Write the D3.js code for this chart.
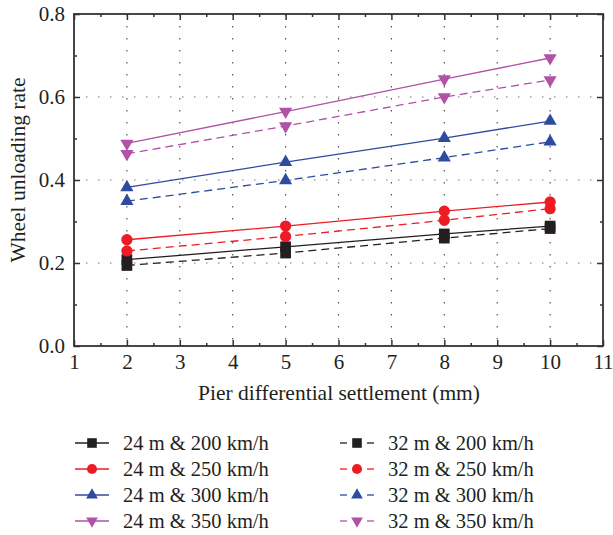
<!DOCTYPE html>
<html>
<head>
<meta charset="utf-8">
<script src="https://cdn.jsdelivr.net/npm/d3@7"></script>
<style>
  html, body { margin: 0; padding: 0; background: #fff; }
  svg text { font-family: "Liberation Serif", "Times New Roman", serif; fill: #231f20; }
</style>
</head>
<body>
<svg id="chart" width="613" height="535"></svg>
<script>
// Settlement values on the x axis (mm)
const settlement = [2, 5, 8, 10];

// Wheel unloading rate for each span / speed combination
const s24_200 = [0.208, 0.239, 0.270, 0.289];
const s24_250 = [0.256, 0.289, 0.325, 0.347];
const s24_300 = [0.382, 0.443, 0.501, 0.542];
const s24_350 = [0.488, 0.565, 0.643, 0.694];
const s32_200 = [0.194, 0.224, 0.260, 0.283];
const s32_250 = [0.229, 0.264, 0.303, 0.331];
const s32_300 = [0.349, 0.399, 0.454, 0.492];
const s32_350 = [0.463, 0.530, 0.600, 0.641];

const seriesNames = [
  "24 m & 200 km/h", "24 m & 250 km/h", "24 m & 300 km/h", "24 m & 350 km/h",
  "32 m & 200 km/h", "32 m & 250 km/h", "32 m & 300 km/h", "32 m & 350 km/h"
];
const seriesValues = [s24_200, s24_250, s24_300, s24_350, s32_200, s32_250, s32_300, s32_350];

const xTicks = [1, 2, 3, 4, 5, 6, 7, 8, 9, 10, 11];
const yTicks = [0.0, 0.2, 0.4, 0.6, 0.8];

const colors = ["#231f20", "#ed1c24", "#2e4ba0", "#b052a6"];
const shapes = ["square", "circle", "up", "down"];

const svg = d3.select("#chart");
const plotL = 74, plotR = 603, plotT = 14, plotB = 346;

const x = d3.scaleLinear().domain([1, 11]).range([plotL, plotR]);
const y = d3.scaleLinear().domain([0, 0.8]).range([plotB, plotT]);

const axisColor = "#333";

// Dotted grid
const grid = svg.append("g");
grid.selectAll("line.vg").data(d3.range(2, 11)).join("line")
  .attr("x1", d => x(d)).attr("x2", d => x(d))
  .attr("y1", plotT).attr("y2", plotB)
  .attr("stroke", "#555").attr("stroke-width", 1.2)
  .attr("stroke-dasharray", "1.5,10.5");
grid.selectAll("line.hg").data([0.2, 0.4, 0.6]).join("line")
  .attr("x1", plotL).attr("x2", plotR)
  .attr("y1", d => y(d)).attr("y2", d => y(d))
  .attr("stroke", "#777").attr("stroke-width", 1.2)
  .attr("stroke-dasharray", "1.5,10.5");

// Axes with inward ticks, mirrored on the opposite sides
const tickMajor = 6, tickMinor = 3;
const xMinor = d3.range(1.5, 11, 1);
const yMinor = d3.range(0.1, 0.8, 0.2);

const bottomAxis = d3.axisBottom(x).tickValues(xTicks).tickFormat(d3.format("d"))
  .tickSizeInner(-tickMajor).tickSizeOuter(0).tickPadding(8);
const gx = svg.append("g").attr("transform", `translate(0,${plotB})`).call(bottomAxis);
gx.selectAll("text").attr("font-size", 21);
const topAxis = d3.axisTop(x).tickValues(xTicks).tickFormat("").tickSizeInner(-tickMajor).tickSizeOuter(0);
svg.append("g").attr("transform", `translate(0,${plotT})`).call(topAxis);
svg.append("g").attr("transform", `translate(0,${plotB})`)
  .call(d3.axisBottom(x).tickValues(xMinor).tickFormat("").tickSizeInner(-tickMinor).tickSizeOuter(0));
svg.append("g").attr("transform", `translate(0,${plotT})`)
  .call(d3.axisTop(x).tickValues(xMinor).tickFormat("").tickSizeInner(-tickMinor).tickSizeOuter(0));

const leftAxis = d3.axisLeft(y).tickValues(yTicks).tickFormat(d3.format(".1f"))
  .tickSizeInner(-tickMajor).tickSizeOuter(0).tickPadding(9);
const gy = svg.append("g").attr("transform", `translate(${plotL},0)`).call(leftAxis);
gy.selectAll("text").attr("font-size", 21);
svg.append("g").attr("transform", `translate(${plotR},0)`)
  .call(d3.axisRight(y).tickValues(yTicks).tickFormat("").tickSizeInner(-tickMajor).tickSizeOuter(0));
svg.append("g").attr("transform", `translate(${plotL},0)`)
  .call(d3.axisLeft(y).tickValues(yMinor).tickFormat("").tickSizeInner(-tickMinor).tickSizeOuter(0));
svg.append("g").attr("transform", `translate(${plotR},0)`)
  .call(d3.axisRight(y).tickValues(yMinor).tickFormat("").tickSizeInner(-tickMinor).tickSizeOuter(0));

svg.selectAll(".domain").remove();
svg.selectAll(".tick line").attr("stroke", axisColor).attr("stroke-width", 1.5);

// Frame
svg.append("rect")
  .attr("x", plotL).attr("y", plotT)
  .attr("width", plotR - plotL).attr("height", plotB - plotT)
  .attr("fill", "none").attr("stroke", axisColor).attr("stroke-width", 1.8);

// Axis titles
svg.append("text")
  .attr("x", 339).attr("y", 400)
  .attr("text-anchor", "middle").attr("font-size", 21.5)
  .text("Pier differential settlement (mm)");
svg.append("text")
  .attr("transform", `translate(25,170) rotate(-90)`)
  .attr("text-anchor", "middle").attr("font-size", 21.5)
  .text("Wheel unloading rate");

function symbolPath(shape, scale) {
  if (shape === "square") return d3.symbol(d3.symbolSquare, 115 * scale)();
  if (shape === "circle") return d3.symbol(d3.symbolCircle, 100 * scale)();
  return d3.symbol(d3.symbolTriangle, 75 * scale)();
}
function markerTransform(shape, cx, cy) {
  return shape === "down" ? `translate(${cx},${cy}) rotate(180)` : `translate(${cx},${cy})`;
}

const line = d3.line().x((d, i) => x(settlement[i])).y(d => y(d));

// Series: lines first, then markers
const plot = svg.append("g");
seriesValues.forEach((vals, k) => {
  const c = colors[k % 4];
  const dashed = k >= 4;
  plot.append("path")
    .datum(vals)
    .attr("d", line)
    .attr("fill", "none")
    .attr("stroke", c)
    .attr("stroke-width", 1.3)
    .attr("stroke-dasharray", dashed ? "8,5" : null);
});
seriesValues.forEach((vals, k) => {
  const c = colors[k % 4];
  const shape = shapes[k % 4];
  plot.selectAll(null).data(vals).join("path")
    .attr("d", symbolPath(shape, 1))
    .attr("transform", (d, i) => markerTransform(shape, x(settlement[i]), y(d)))
    .attr("fill", c);
});

// Legend in two columns
const legend = svg.append("g");
const rowY = [443, 469, 495, 521];
seriesNames.forEach((name, k) => {
  const c = colors[k % 4];
  const shape = shapes[k % 4];
  const col = k < 4 ? 0 : 1;
  const ry = rowY[k % 4];
  const lx0 = col === 0 ? 75 : 340;
  const lx1 = lx0 + 34;
  const mx = (lx0 + lx1) / 2;
  const g = legend.append("g");
  if (col === 0) {
    g.append("line").attr("x1", lx0).attr("x2", lx1).attr("y1", ry).attr("y2", ry)
      .attr("stroke", c).attr("stroke-width", 1.3);
  } else {
    g.append("line").attr("x1", lx0).attr("x2", lx0 + 7).attr("y1", ry).attr("y2", ry)
      .attr("stroke", c).attr("stroke-width", 1.3);
    g.append("line").attr("x1", lx1 - 7).attr("x2", lx1).attr("y1", ry).attr("y2", ry)
      .attr("stroke", c).attr("stroke-width", 1.3);
  }
  g.append("path")
    .attr("d", symbolPath(shape, 0.8))
    .attr("transform", markerTransform(shape, mx, ry))
    .attr("fill", c);
  g.append("text")
    .attr("x", col === 0 ? 123 : 388).attr("y", ry + 7)
    .attr("font-size", 20.5)
    .text(name);
});
</script>
</body>
</html>
